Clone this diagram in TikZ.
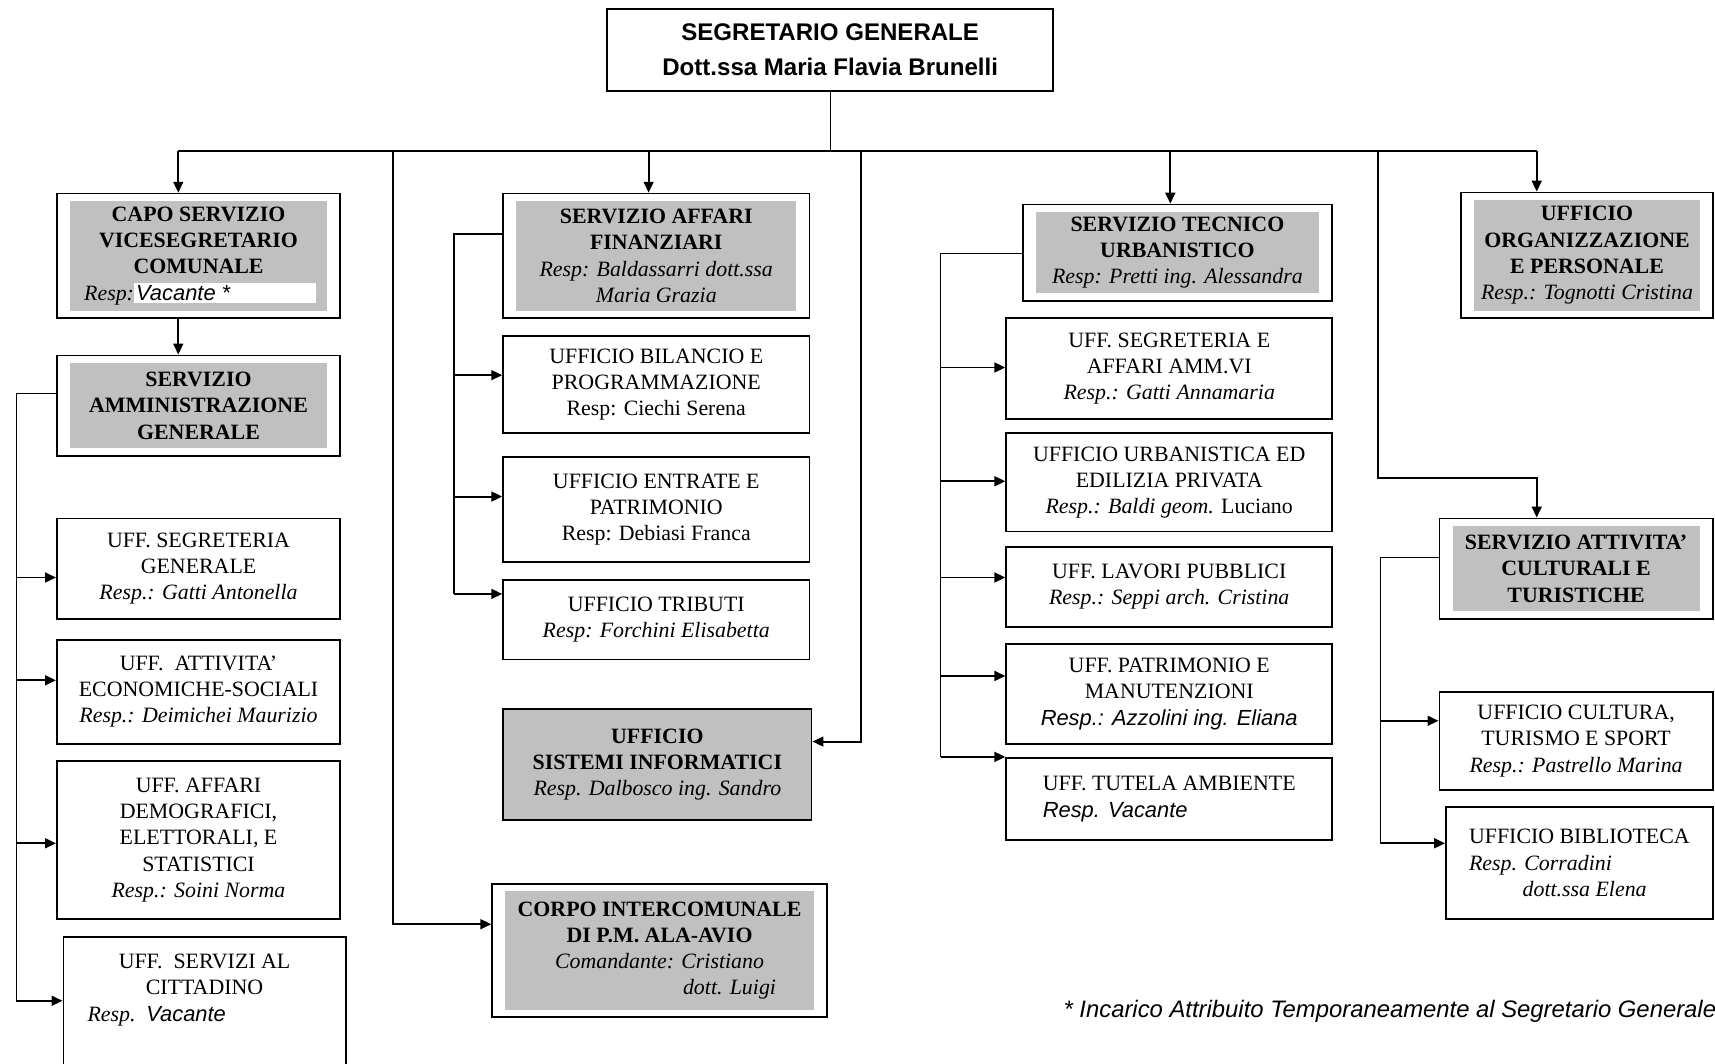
\documentclass[tikz,border=0pt]{standalone}
\usepackage{fontspec}
\setmainfont{Liberation Serif}
\setsansfont{Liberation Sans}
\usetikzlibrary{arrows.meta}

\definecolor{boxgrey}{RGB}{192,192,192}
\setlength{\fboxsep}{1pt}
\newcommand{\resp}[1]{\textnormal{\itshape #1}}
\newcommand{\vac}[1]{\textnormal{\sffamily\itshape #1}}

\tikzset{
    office/.style={draw, rectangle, align=center, inner sep=1pt, line width=0.8pt,
        font=\fontsize{10}{12}\selectfont},
    service/.style={office, font=\bfseries\fontsize{10}{12}\selectfont,
        path picture={\fill[boxgrey] ([shift={(6pt,-3.5pt)}]path picture bounding box.north west)
            rectangle ([shift={(-6pt,3.5pt)}]path picture bounding box.south east);}},
    solidservice/.style={office, fill=boxgrey, font=\bfseries\fontsize{10}{12}\selectfont},
    link/.style={line width=0.6pt},
    arr/.style={line width=0.9pt, -{Triangle[length=5pt,width=4.5pt]}}
}

\begin{document}
\begin{tikzpicture}[x=0.5pt, y=-0.5pt]
        \useasboundingbox (0,0) rectangle (1568,972);

        % Segretario
        \node[office, font=\sffamily\bfseries\fontsize{11}{16}\selectfont, minimum width=204pt, minimum height=37.5pt]
            (segretario) at (759,45.5) {SEGRETARIO GENERALE\\Dott.ssa Maria Flavia Brunelli};

        % Colonna vicesegretario
        \node[service, minimum width=129.5pt, minimum height=57pt] (capo) at (181.5,234)
            {CAPO SERVIZIO\\VICESEGRETARIO\\COMUNALE\\\makebox[104.5pt][l]{\resp{Resp:}\colorbox{white}{\makebox[81pt][l]{\vac{Vacante *}}}}};
        \node[service, minimum width=129.5pt, minimum height=46pt] (amm) at (181.5,371)
            {SERVIZIO\\AMMINISTRAZIONE\\GENERALE};
        \node[office, minimum width=129.5pt, minimum height=46pt] (segr) at (181.5,520)
            {UFF. SEGRETERIA\\GENERALE\\\resp{Resp.: Gatti Antonella}};
        \node[office, minimum width=129.5pt, minimum height=47.5pt] (attiv) at (181.5,632.5)
            {UFF.\ \ ATTIVITA’\\ECONOMICHE-SOCIALI\\\resp{Resp.: Deimichei Maurizio}};
        \node[office, minimum width=129.5pt, minimum height=72pt] (demo) at (181.5,768)
            {UFF. AFFARI\\DEMOGRAFICI,\\ELETTORALI, E\\STATISTICI\\\resp{Resp.: Soini Norma}};
        \node[office, minimum width=129pt, minimum height=61.5pt] (citt) at (187,918.5)
            {UFF.\ \ SERVIZI AL\\CITTADINO\\\makebox[107pt][l]{\resp{Resp.}\ \ \vac{Vacante}}\\\strut};

        % Colonna affari finanziari
        \node[service, minimum width=140pt, minimum height=57pt] (fin) at (600,234)
            {SERVIZIO AFFARI\\FINANZIARI\\\resp{Resp: Baldassarri dott.ssa}\\\resp{Maria Grazia}};
        \node[office, minimum width=140pt, minimum height=44.5pt] (bil) at (600,351.5)
            {UFFICIO BILANCIO E\\PROGRAMMAZIONE\\Resp: Ciechi Serena};
        \node[office, minimum width=140pt, minimum height=48pt] (entr) at (600,466)
            {UFFICIO ENTRATE E\\PATRIMONIO\\Resp: Debiasi Franca};
        \node[office, minimum width=140pt, minimum height=36.5pt] (trib) at (600,566.5)
            {UFFICIO TRIBUTI\\\resp{Resp: Forchini Elisabetta}};
        \node[solidservice, minimum width=141pt, minimum height=51pt] (sist) at (601,699)
            {UFFICIO\\SISTEMI INFORMATICI\\\resp{Resp. Dalbosco ing. Sandro}};
        \node[service, minimum width=153pt, minimum height=61pt] (corpo) at (603,869)
            {CORPO INTERCOMUNALE\\DI P.M. ALA-AVIO\\\resp{Comandante: Cristiano}\\\hspace*{64pt}\resp{dott. Luigi}};

        % Colonna tecnico urbanistico
        \node[service, minimum width=141.5pt, minimum height=44pt] (tecn) at (1076.5,231)
            {SERVIZIO TECNICO\\URBANISTICO\\\resp{Resp: Pretti ing. Alessandra}};
        \node[office, minimum width=149pt, minimum height=46pt] (segram) at (1069,337)
            {UFF. SEGRETERIA E\\AFFARI AMM.VI\\\resp{Resp.: Gatti Annamaria}};
        \node[office, minimum width=149pt, minimum height=45pt] (urb) at (1069,441)
            {UFFICIO URBANISTICA ED\\EDILIZIA PRIVATA\\\resp{Resp.: Baldi geom.} Luciano};
        \node[office, minimum width=149pt, minimum height=36.5pt] (lav) at (1069,536.5)
            {UFF. LAVORI PUBBLICI\\\resp{Resp.: Seppi arch. Cristina}};
        \node[office, minimum width=149pt, minimum height=45.5pt] (patr) at (1069,634.5)
            {UFF. PATRIMONIO E\\MANUTENZIONI\\\vac{Resp.: Azzolini ing. Eliana}};
        \node[office, align=left, minimum width=149pt, minimum height=37.5pt] (tut) at (1069,730.5)
            {UFF. TUTELA AMBIENTE\\\vac{Resp. Vacante}};

        % Colonna destra
        \node[service, minimum width=115pt, minimum height=57.5pt] (org) at (1451,233.5)
            {UFFICIO\\ORGANIZZAZIONE\\E PERSONALE\\\resp{Resp.: Tognotti Cristina}};
        \node[service, minimum width=125pt, minimum height=46pt] (cult) at (1441,520)
            {SERVIZIO ATTIVITA’\\CULTURALI E\\TURISTICHE};
        \node[office, minimum width=125pt, minimum height=44.5pt] (turi) at (1441,677.5)
            {UFFICIO CULTURA,\\TURISMO E SPORT\\\resp{Resp.: Pastrello Marina}};
        \node[office, align=left, minimum width=122pt, minimum height=51pt] (bib) at (1444,789)
            {UFFICIO BIBLIOTECA\\\resp{Resp. Corradini}\\\hspace*{24.5pt}\resp{dott.ssa Elena}};

        % Nota
        \node[anchor=west, inner sep=0pt, font=\sffamily\itshape\fontsize{10.9}{12}\selectfont] (nota) at (972,925)
            {* Incarico Attribuito Temporaneamente al Segretario Generale};

        % Barra principale
        \coordinate (busL) at (163,138);
        \coordinate (busR) at (1405,138);
        \draw[link] (segretario.south) -- (segretario.south |- busL);
        \draw[link] (busL) -- (busR);
        \draw[arr] (busL) -- (busL |- capo.north);
        \draw[arr] (busR) -- (busR |- org.north);
        \coordinate (busF) at (593,138);
        \draw[arr] (busF) -- (busF |- fin.north);
        \coordinate (busT) at (1070,138);
        \draw[arr] (busT) -- (busT |- tecn.north);
        \coordinate (busP) at (359,138);
        \coordinate (pm) at (359,845);
        \draw[arr] (busP) -- (pm) -- (pm -| corpo.west);
        \coordinate (busS) at (787,138);
        \coordinate (si) at (787,678);
        \draw[arr] (busS) -- (si) -- (si -| sist.east);
        \coordinate (busC) at (1260,138);
        \coordinate (cu) at (1405,437);
        \draw[arr] (busC) |- (cu) -- (cu |- cult.north);

        % Vicesegretario
        \draw[arr] (capo.south -| busL) -- (busL |- amm.north);
        \coordinate (ammTop) at (15,360);
        \coordinate (ammBot) at (15,915);
        \draw[link] (ammTop -| amm.west) -- (ammTop) -- (ammBot);
        \foreach \n/\y in {segr/528, attiv/622, demo/771, citt/915} {
            \coordinate (t) at (15,\y);
            \draw[arr] (t) -- (t -| \n.west);
        }

        % Affari finanziari
        \coordinate (finTop) at (415,214);
        \coordinate (finBot) at (415,543);
        \draw[link] (finTop -| fin.west) -- (finTop) -- (finBot);
        \foreach \n/\y in {bil/343, entr/454, trib/543} {
            \coordinate (t) at (415,\y);
            \draw[arr] (t) -- (t -| \n.west);
        }

        % Tecnico urbanistico
        \coordinate (tecTop) at (860,232);
        \coordinate (tecBot) at (860,692);
        \draw[link] (tecTop -| tecn.west) -- (tecTop) -- (tecBot);
        \foreach \n/\y in {segram/336, urb/440, lav/528, patr/618, tut/692} {
            \coordinate (t) at (860,\y);
            \draw[arr] (t) -- (t -| \n.west);
        }

        % Attivita culturali
        \coordinate (culTop) at (1262,510);
        \coordinate (culBot) at (1262,771);
        \draw[link] (culTop -| cult.west) -- (culTop) -- (culBot);
        \foreach \n/\y in {turi/659, bib/771} {
            \coordinate (t) at (1262,\y);
            \draw[arr] (t) -- (t -| \n.west);
        }
    \end{tikzpicture}
\end{document}
